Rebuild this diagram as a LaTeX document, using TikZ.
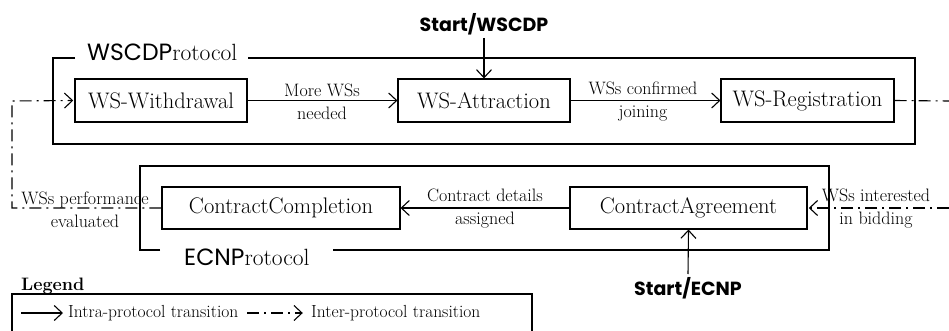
\documentclass[tikz,border=0pt]{standalone}
\usepackage{fontspec}
\setmainfont{Latin Modern Roman}
\newfontfamily\comicf{Poppins}
\usetikzlibrary{arrows.meta}
\begin{document}
\begin{tikzpicture}[x=1pt,y=-1pt,
  state/.style={draw,line width=1.1pt,minimum height=43pt,inner sep=0pt,font=\fontsize{22.5}{24}\selectfont},
  frame/.style={line width=2.6pt},
  intra/.style={line width=1.1pt,-{Straight Barb[length=8pt,width=15pt,line width=1.1pt]}},
  inter/.style={line width=1.1pt,dash pattern=on 12pt off 5pt on 2pt off 5pt},
  interarrow/.style={inter,-{Straight Barb[length=8pt,width=15pt,line width=1.1pt,sep]}},
  elabel/.style={align=center,inner sep=0pt,font=\fontsize{18}{23}\selectfont},
  startlbl/.style={inner sep=3pt,font=\comicf\bfseries\fontsize{19}{21}\selectfont},
  protlbl/.style={inner sep=0pt,anchor=base west,font=\fontsize{23.5}{25}\selectfont}
]
\useasboundingbox (0,0) rectangle (949,331);

% frames
\draw[frame] (75,58) -- (53,58) -- (53,144) -- (915,144) -- (915,58) -- (248,58);
\node[protlbl] (wscdplbl) at (87,61) {{\comicf WSCDP}rotocol};
\draw[frame] (160,250) -- (140,250) -- (140,166) -- (829,166) -- (829,250) -- (333,250);
\node[protlbl] (ecnplbl) at (184,265) {{\comicf ECNP}rotocol};

% states
\node[state,minimum width=172pt] (wsw) at (161,100.5) {WS-Withdrawal};
\node[state,minimum width=172pt] (wsa) at (484,100.5) {WS-Attraction};
\node[state,minimum width=173pt] (wsr) at (807.5,100.5) {WS-Registration};
\node[state,minimum width=238pt,minimum height=42pt] (cc) at (281,208) {ContractCompletion};
\node[state,minimum width=237pt,minimum height=42pt] (ca) at (688.5,208) {ContractAgreement};

% start labels
\node[startlbl] (sw) at (484,24) {Start/WSCDP};
\node[startlbl] (se) at (688,288) {Start/ECNP};
\draw[intra] (sw.south) -- (wsa.north);
\draw[intra] (se.north) -- (ca.south);

% intra transitions
\draw[intra] (wsw.east) -- (wsa.west);
\node[elabel] (l1) at (322,101.5) {More WSs\\needed};
\draw[intra] (wsa.east) -- (wsr.west);
\node[elabel] (l2) at (643,101.5) {WSs confirmed\\joining};
\draw[intra] (ca.west) -- (cc.east);
\node[elabel] (l3) at (485,209) {Contract details\\assigned};

% inter transitions
\coordinate (lc1) at (12,208);
\coordinate (lc2) at (12,101);
\draw[interarrow] (cc.west) -- (lc1) -- (lc2) -- (wsw.west);
\node[elabel] (l4) at (85,210) {WSs performance\\evaluated};
\coordinate (rc1) at (949,101);
\coordinate (rc2) at (949,208);
\draw[inter] (wsr.east) -- (rc1);
\draw[interarrow] (rc2) -- (ca.east);
\node[elabel] (l5) at (876,209) {WSs interested\\in bidding};

% legend
\node[anchor=base west,inner sep=0pt,font=\bfseries\fontsize{18}{20}\selectfont] (leg) at (21,290) {Legend};
\draw[line width=1.2pt] (12,333) -- (12,294) -- (532,294) -- (532,333);
\coordinate (la) at (21,313);
\coordinate (lb) at (63,313);
\draw[intra] (la) -- (lb);
\node[anchor=west,inner sep=0pt,font=\fontsize{17.5}{19}\selectfont] (lt1) at (68,313) {Intra-protocol transition};
\coordinate (lc) at (247,313);
\coordinate (ld) at (304,313);
\draw[interarrow] (lc) -- (ld);
\node[anchor=west,inner sep=0pt,font=\fontsize{17.5}{19}\selectfont] (lt2) at (311,313) {Inter-protocol transition};
\end{tikzpicture}
\end{document}
